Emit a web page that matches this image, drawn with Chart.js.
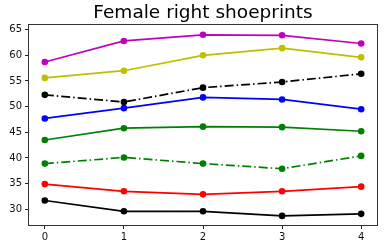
<!DOCTYPE html>
<html><head><meta charset="utf-8">
<script src="https://cdn.jsdelivr.net/npm/chart.js@4"></script>
<style>html,body{margin:0;padding:0;background:#fff}#wrap{width:388px;height:249px}</style>
</head><body><div id="wrap"><canvas id="c" width="388" height="249"></canvas></div>
<script>
const xValues = [0, 1, 2, 3, 4];
const magenta = [58.7, 62.8, 64.0, 63.9, 62.3];
const yellow = [55.6, 57.0, 60.0, 61.4, 59.6];
const blackDash = [52.3, 50.9, 53.7, 54.8, 56.4];
const blue = [47.7, 49.7, 51.8, 51.4, 49.5];
const greenSolid = [43.5, 45.8, 46.1, 46.0, 45.2];
const greenDash = [38.9, 40.1, 38.9, 37.9, 40.4];
const red = [34.9, 33.5, 32.9, 33.5, 34.4];
const blackSolid = [31.7, 29.6, 29.6, 28.7, 29.1];
const yTicks = [30, 35, 40, 45, 50, 55, 60, 65];
const titleText = 'Female right shoeprints';

const seriesDefs = [
  [magenta, '#bf00bf', []],
  [yellow, '#bfbf00', []],
  [blackDash, '#000000', [9, 3, 1.5, 3]],
  [blue, '#0000ff', []],
  [greenSolid, '#008000', []],
  [greenDash, '#008000', [9, 3, 1.5, 3]],
  [red, '#ff0000', []],
  [blackSolid, '#000000', []]
];

const datasets = seriesDefs.map(([vals, col, dash]) => ({
  data: vals.map((v, i) => ({x: xValues[i], y: v})),
  borderColor: col,
  backgroundColor: col,
  borderWidth: 1.7,
  borderDash: dash,
  pointRadius: 3.3,
  pointHoverRadius: 3.3,
  pointBorderWidth: 0,
  tension: 0
}));

const frame = {
  id: 'frame',
  afterDraw(chart) {
    const a = chart.chartArea, ctx = chart.ctx;
    ctx.save();
    ctx.strokeStyle = '#333';
    ctx.lineWidth = 1;
    ctx.strokeRect(Math.round(a.left) - 0.5, Math.round(a.top) - 0.5, Math.round(a.right - a.left) + 1, Math.round(a.bottom - a.top) + 1);
    ctx.restore();
  }
};

new Chart(document.getElementById('c'), {
  type: 'line',
  data: {datasets},
  plugins: [frame],
  options: {
    responsive: false,
    animation: false,
    events: [],
    layout: {padding: {top: 0, right: 11, left: 0, bottom: 0}},
    plugins: {
      legend: {display: false},
      tooltip: {enabled: false},
      title: {
        display: true,
        fullSize: false,
        text: titleText,
        color: '#000',
        font: {family: 'DejaVu Sans', size: 18.5, weight: 'normal', lineHeight: 1.2},
        padding: {top: 2.5, bottom: 0.5}
      }
    },
    scales: {
      x: {
        type: 'linear',
        min: -0.2, max: 4.2,
        afterBuildTicks(s) { s.ticks = xValues.map(v => ({value: v})); },
        afterFit(s) { s.height = 24; },
        grid: {display: true, drawOnChartArea: false, drawTicks: true, tickLength: 4, color: '#222', lineWidth: 1},
        border: {display: false},
        ticks: {color: '#111', font: {family: 'DejaVu Sans', size: 10}, padding: 2, maxRotation: 0}
      },
      y: {
        type: 'linear',
        min: 26.93, max: 65.87,
        afterBuildTicks(s) { s.ticks = yTicks.map(v => ({value: v})); },
        afterFit(s) { s.width = 29; },
        grid: {display: true, drawOnChartArea: false, drawTicks: true, tickLength: 4, color: '#222', lineWidth: 1},
        border: {display: false},
        ticks: {color: '#111', font: {family: 'DejaVu Sans', size: 10}, padding: 3}
      }
    }
  }
});
</script></body></html>
